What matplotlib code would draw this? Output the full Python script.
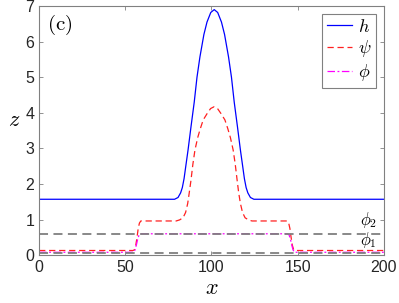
import matplotlib
matplotlib.use("Agg")
import matplotlib.pyplot as plt

plt.rcParams['font.family'] = 'Liberation Sans'
plt.rcParams['mathtext.fontset'] = 'cm'

# h (solid blue)
h_x = [0, 76.6, 78.6, 80.6, 82.1, 83.1, 84.1, 85.1, 86.4, 88.1, 90.0, 91.6, 93.3,
       95.6, 97.4, 99.6, 101.6, 103.6, 105.8, 107.6, 109.9, 111.6, 113.2, 115.1,
       116.8, 118.1, 119.1, 120.1, 121.1, 122.6, 124.6, 126.6, 200]
h_y = [1.57, 1.57, 1.57, 1.62, 1.75, 1.9, 2.15, 2.5, 2.95, 3.6, 4.3, 5.0, 5.57,
       6.2, 6.55, 6.82, 6.9, 6.82, 6.55, 6.2, 5.57, 5.0, 4.3, 3.6,
       2.95, 2.5, 2.15, 1.9, 1.75, 1.62, 1.57, 1.57, 1.57]

# psi (red dashed)
psi_x = [0, 53.5, 54.5, 55.3, 56.1, 56.8, 57.5, 58.2, 59.0, 79.5, 81.5, 83.5, 85.0,
         86.2, 87.1, 88.1, 89.2, 90.4, 92.0, 93.5, 95.2, 97.5, 99.5, 101.5,
         103.5, 105.5, 107.8, 109.5, 111.0, 112.6, 113.8, 114.9, 115.8, 116.8,
         118.0, 119.5, 121.5, 123.5, 144.0, 144.8, 145.5, 146.2, 146.9, 147.7,
         148.5, 200]
psi_y = [0.13, 0.13, 0.13, 0.15, 0.28, 0.5, 0.75, 0.9, 0.96, 0.96, 0.99, 1.05, 1.2,
         1.45, 1.75, 2.1, 2.55, 2.95, 3.3, 3.55, 3.8, 3.98, 4.12, 4.17,
         4.12, 3.98, 3.8, 3.55, 3.3, 2.95, 2.55, 2.1, 1.75, 1.45,
         1.2, 1.05, 0.99, 0.96, 0.96, 0.9, 0.75, 0.5, 0.28, 0.15,
         0.13, 0.13]

# phi (magenta dash-dot)
phi_x = [0, 54.0, 54.9, 55.7, 56.5, 57.2, 58.0, 59.0, 144.0, 145.0, 145.8, 146.5,
         147.3, 148.1, 149.0, 200]
phi_y = [0.08, 0.08, 0.08, 0.15, 0.3, 0.45, 0.57, 0.6, 0.6, 0.57, 0.45, 0.3,
         0.15, 0.08, 0.08, 0.08]

phi_levels = [0.07, 0.6]
phi_names = [r'$\phi_1$', r'$\phi_2$']

fig = plt.figure(figsize=(3.99, 3.03), dpi=100)
ax = fig.add_axes([0.098, 0.158, 0.864, 0.822])

for lv in phi_levels:
    ax.plot([0, 200], [lv, lv], color='#7f7f7f', ls=(0, (5, 3)), lw=1.3, zorder=3)

ax.plot(h_x, h_y, color='blue', lw=0.9, label=r'$h$')
ax.plot(psi_x, psi_y, color='#ff2020', ls=(0, (5, 3)), lw=0.9, label=r'$\psi$')
ax.plot(phi_x, phi_y, color='magenta', ls=(0, (6, 2, 1.5, 2)), lw=0.9, label=r'$\phi$')

ax.text(191, 0.98, phi_names[1], fontsize=12, ha='center', va='center')
ax.text(191, 0.42, phi_names[0], fontsize=12, ha='center', va='center')
ax.text(4.5, 6.47, r'$\mathrm{(c)}$', fontsize=15, ha='left', va='center')

ax.set_xlim(0, 200)
ax.set_ylim(0, 7)
ax.set_xticks([0, 50, 100, 150, 200])
ax.set_yticks(range(8))
ax.tick_params(direction='in', top=True, right=True, labelsize=11.5,
               color='#808080', length=3, width=0.6, labelcolor='#262626')
for s in ax.spines.values():
    s.set_color('#808080')
    s.set_linewidth(0.8)
ax.set_xlabel(r'$x$', fontsize=16, labelpad=2)
ax.set_ylabel(r'$z$', fontsize=16, rotation=0, labelpad=8)

leg = ax.legend(loc='upper right', fontsize=13, fancybox=False, edgecolor='#808080',
                framealpha=1, handlelength=1.4, borderpad=0.25, labelspacing=0.15,
                handletextpad=0.3, borderaxespad=0.45)
leg.get_frame().set_linewidth(0.8)

fig.savefig('out.png', dpi=100)
